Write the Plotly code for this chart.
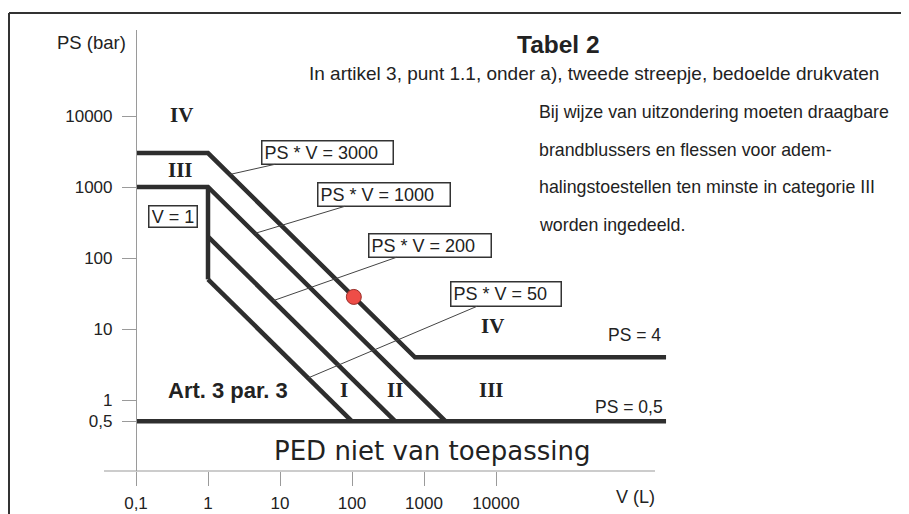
import math
import plotly.graph_objects as go

# ---------------- data ----------------
x_tick_vals = [0.1, 1, 10, 100, 1000, 10000]
x_tick_text = ["0,1", "1", "10", "100", "1000", "10000"]
y_tick_vals = [0.5, 1, 10, 100, 1000, 10000]
y_tick_text = ["0,5", "1", "10", "100", "1000", "10000"]

ps_v_limits = [50, 200, 1000, 3000]          # PS * V limits (bar.L)
ps_min = 0.5                                 # PS = 0,5
ps_cat4 = 4                                  # PS = 4
v_split = 1                                  # V = 1
v_split_ps = [1000, 50]                      # V = 1 segment from / to
v_start = 0.1
v_end = 2.3e6                                # right end of drawn lines
point_v = [106]
point_ps = [28.3]
leader_v = {3000: 2.0, 1000: 4.5, 200: 8.0, 50: 24.5}

# ---------------- geometry helpers (reference pixel -> axis / paper) ----------------
OFF = 8                                      # page body margin of the browser
W_FIG, H_FIG = 909 - OFF, 514 - OFF
PL, PR, PT, PB = 104, 680, 30, 471           # plot area in reference pixels
PW, PH = PR - PL, PB - PT

def lx(px):
    return -1 + (px - 136) / 72.0

def ly(py):
    return (400 - py) / 71.0

def fx(px):
    return (px - PL) / PW

def fy(py):
    return (PB - py) / PH

LINE = "#2e2e2e"
TXT = "#222222"
SANS = "Liberation Sans, Arial, sans-serif"
SERIF = "Liberation Serif, Times New Roman, serif"

fig = go.Figure()

def add_line(xs, ys):
    fig.add_trace(go.Scatter(x=xs, y=ys, mode="lines",
                             line=dict(color=LINE, width=4.5),
                             hoverinfo="skip", showlegend=False))

# PS = 0,5 line
add_line([v_start, v_end], [ps_min, ps_min])
# PS*V = 3000 with cap and PS = 4 line
lim = ps_v_limits[3]
add_line([v_start, v_split, lim / ps_cat4, v_end], [lim, lim, ps_cat4, ps_cat4])
# PS*V = 1000 with cap
lim = ps_v_limits[2]
add_line([v_start, v_split, lim / ps_min], [lim, lim, ps_min])
# V = 1 vertical
add_line([v_split, v_split], v_split_ps)
# PS*V = 200 and 50
for lim in ps_v_limits[:2]:
    add_line([v_split, lim / ps_min], [lim / v_split, ps_min])

# red point
fig.add_trace(go.Scatter(x=point_v, y=point_ps, mode="markers",
                         marker=dict(size=15, color="#ee4d47",
                                     line=dict(color="#9a2f2a", width=1)),
                         hoverinfo="skip", showlegend=False))

ann = []

# box labels with leader lines
boxes = {
    3000: (327.5, 152.5, 133, 25),
    1000: (384, 194.5, 134, 25),
    200: (430, 245.5, 124, 25),
    50: (506, 294, 112, 26),
}
for lim, (cx, cy, bw, bh) in boxes.items():
    v = leader_v[lim]
    ps = lim / v
    ann.append(dict(x=math.log10(v), y=math.log10(ps), xref="x", yref="y",
                    ax=lx(cx), ay=ly(cy), axref="x", ayref="y",
                    text="PS * V = %d" % lim, showarrow=True, arrowhead=0,
                    arrowwidth=1, arrowcolor="#444", standoff=0,
                    font=dict(family=SANS, size=18, color=TXT),
                    bordercolor="#333", borderwidth=1.5, borderpad=2,
                    bgcolor="white", width=bw - 7, height=bh - 7,
                    align="left", valign="middle"))

ann.append(dict(x=fx(173), y=fy(216.5), xref="paper", yref="paper",
                text="V = 1", showarrow=False,
                font=dict(family=SANS, size=18, color=TXT),
                bordercolor="#333", borderwidth=1.5, borderpad=2,
                bgcolor="white", width=43, height=16,
                xanchor="center", yanchor="middle"))

def text(px, py, s, size=17, family=SANS, bold=False, xanchor="center"):
    if bold:
        s = "<b>" + s + "</b>"
    ann.append(dict(x=fx(px), y=fy(py), xref="paper", yref="paper", text=s,
                    showarrow=False, xanchor=xanchor, yanchor="middle",
                    font=dict(family=family, size=size, color=TXT)))

# roman numerals
text(181, 115, "IV", 21, SERIF, True)
text(180, 170, "III", 21, SERIF, True)
text(492, 326, "IV", 21, SERIF, True)
text(491, 390, "III", 21, SERIF, True)
text(344, 390, "I", 21, SERIF, True)
text(395, 390, "II", 21, SERIF, True)
text(228, 390, "Art. 3 par. 3", 22, SANS, True)

text(663, 335, "PS = 4", 17.5, xanchor="right")
text(665, 407, "PS = 0,5", 17.5, xanchor="right")
text(432, 451, "PED niet van toepassing", 26, "DejaVu Sans, Verdana, sans-serif")

# titles
text(558.5, 44, "Tabel 2", 24.5, SANS, True)
text(593.5, 73, "In artikel 3, punt 1.1, onder a), tweede streepje, bedoelde drukvaten", 19)

notes = ["Bij wijze van uitzondering moeten draagbare",
         "brandblussers en flessen voor adem-",
         "halingstoestellen ten minste in categorie III",
         "worden ingedeeld."]
for i, s in enumerate(notes):
    text(537, 112 + 37.5 * i, s, 17.8, xanchor="left")

# axis titles
text(91.5, 43, "PS (bar)", 18.5)
text(635, 497, "V (L)", 18)

shapes = [
    # x axis line
    dict(type="line", xref="paper", yref="paper", x0=0, x1=fx(655), y0=0, y1=0,
         line=dict(color="#9a9a9a", width=1.2)),
    # frame top and left
    dict(type="line", xref="paper", yref="paper", x0=fx(9), x1=fx(930),
         y0=fy(13), y1=fy(13), line=dict(color="#333", width=2)),
    dict(type="line", xref="paper", yref="paper", x0=fx(9), x1=fx(9),
         y0=fy(13), y1=fy(530), line=dict(color="#333", width=2)),
]

fig.update_layout(
    width=W_FIG, height=H_FIG,
    margin=dict(l=PL - OFF, r=W_FIG - (PR - OFF), t=PT - OFF, b=H_FIG - (PB - OFF), pad=0,
                autoexpand=False),
    paper_bgcolor="white", plot_bgcolor="rgba(0,0,0,0)",
    showlegend=False,
    xaxis=dict(type="log", range=[lx(PL), lx(PR)], showgrid=False, zeroline=False,
               showline=False, ticks="outside", ticklen=14, tickwidth=1.2,
               tickcolor="#9a9a9a", tickvals=x_tick_vals, ticktext=x_tick_text,
               tickfont=dict(family=SANS, size=17, color=TXT),
               ticklabelstandoff=3, automargin=False),
    yaxis=dict(type="log", range=[ly(PB), ly(PT)], showgrid=False, zeroline=False,
               anchor="free", position=fx(136), showline=True,
               linecolor="#9a9a9a", linewidth=1.2,
               ticks="outside", ticklen=14, tickwidth=1.2, tickcolor="#9a9a9a",
               tickvals=y_tick_vals, ticktext=y_tick_text,
               tickfont=dict(family=SANS, size=17, color=TXT),
               ticklabelstandoff=6, automargin=False),
    annotations=ann,
    shapes=shapes,
)

fig.write_html("out.html")
